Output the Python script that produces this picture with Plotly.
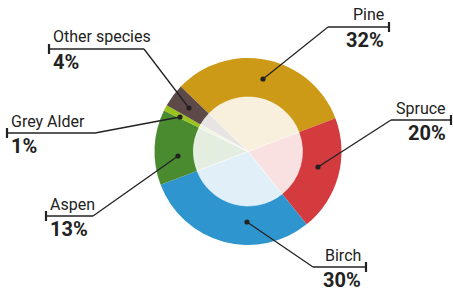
import plotly.graph_objects as go

# ---- data ----
species = ["Pine", "Spruce", "Birch", "Aspen", "Grey Alder", "Other species"]
shares = [32, 20, 30, 13, 1, 4]
pct_labels = ["32%", "20%", "30%", "13%", "1%", "4%"]
colors = ["#CD9A18", "#D43B3F", "#2E95CF", "#4A8B2F", "#9BC31B", "#5D4A48"]

W, H = 453, 292
CX, CY = 248, 151.5
R_OUT, R_IN = 93.5, 54.5

def px(x):
    return x / W

def py(y):
    return 1 - y / H

fig = go.Figure()
fig.add_trace(go.Pie(
    labels=species, values=shares, sort=False, direction="clockwise",
    rotation=-46, marker=dict(colors=colors, line=dict(width=0)),
    textinfo="none", hoverinfo="skip", showlegend=False,
    domain=dict(x=[px(CX - R_OUT), px(CX + R_OUT)], y=[py(CY + R_OUT), py(CY - R_OUT)]),
))
fig.add_trace(go.Pie(
    labels=species, values=shares, sort=False, direction="clockwise",
    rotation=-46, marker=dict(colors=["rgba(255,255,255,0.85)"] * len(species),
                              line=dict(width=0.6, color="rgba(255,255,255,0.9)")),
    textinfo="none", hoverinfo="skip", showlegend=False,
    domain=dict(x=[px(CX - R_IN), px(CX + R_IN)], y=[py(CY + R_IN), py(CY - R_IN)]),
))

# label layout: dot (x,y), elbow (x,y), end x, side
label_layout = {
    "Pine": ((263, 79), (328, 27), 389, "right"),
    "Spruce": ((318, 167), (391, 120), 451, "right"),
    "Birch": ((247, 222), (313, 267), 366, "right"),
    "Aspen": ((178, 156), (93, 216), 46, "left"),
    "Grey Alder": ((180, 117), (95, 133), 7, "left"),
    "Other species": ((189, 108), (144, 49), 49, "left"),
}

FONT = "Roboto, Liberation Sans, sans-serif"
INK = "#222222"
shapes = []
annotations = []
for name, pct in zip(species, pct_labels):
    (dx, dy), (ex, ey), endx, side = label_layout[name]
    shapes.append(dict(type="line", xref="paper", yref="paper",
                       x0=px(dx), y0=py(dy), x1=px(ex), y1=py(ey),
                       line=dict(color=INK, width=1.3)))
    shapes.append(dict(type="line", xref="paper", yref="paper",
                       x0=px(ex), y0=py(ey), x1=px(endx), y1=py(ey),
                       line=dict(color=INK, width=1.3)))
    shapes.append(dict(type="line", xref="paper", yref="paper",
                       x0=px(endx), y0=py(ey - 5), x1=px(endx), y1=py(ey + 5),
                       line=dict(color=INK, width=2.2)))
    shapes.append(dict(type="circle", xref="paper", yref="paper",
                       x0=px(dx - 2.6), x1=px(dx + 2.6), y0=py(dy + 2.6), y1=py(dy - 2.6),
                       fillcolor=INK, line=dict(width=0)))
    if side == "right":
        tx, xa = endx - 3, "right"
    else:
        tx, xa = endx + 2, "left"
    annotations.append(dict(text=name, x=px(tx), y=py(ey - 0.5), xref="paper", yref="paper",
                            xanchor=xa, yanchor="bottom", showarrow=False,
                            font=dict(family=FONT, size=16, color=INK)))
    annotations.append(dict(text="<b>" + pct + "</b>", x=px(tx), y=py(ey - 1), xref="paper", yref="paper",
                            xanchor=xa, yanchor="top", showarrow=False,
                            font=dict(family=FONT, size=20, color=INK)))

fig.update_layout(
    width=W, height=H, margin=dict(l=0, r=0, t=0, b=0),
    paper_bgcolor="white", plot_bgcolor="white",
    shapes=shapes, annotations=annotations,
)

fig.write_html("out.html", config={"displayModeBar": False},
               post_script="document.body.style.margin='0';document.body.style.overflow='hidden';")
